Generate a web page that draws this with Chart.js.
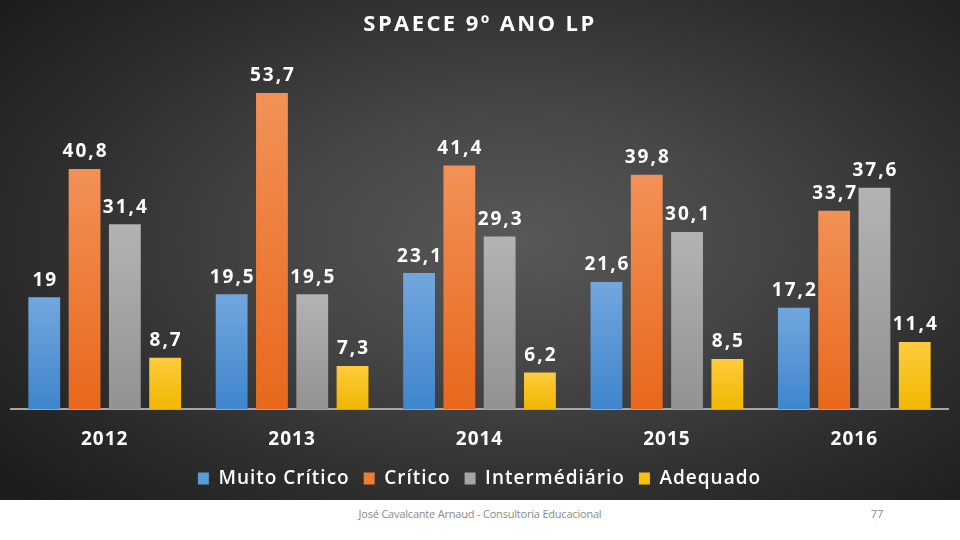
<!DOCTYPE html>
<html>
<head>
<meta charset="utf-8">
<script src="https://cdn.jsdelivr.net/npm/chart.js@4.4.1/dist/chart.umd.min.js"></script>
<style>
  html, body { margin: 0; padding: 0; background: #ffffff; }
  #wrap { position: relative; width: 960px; height: 540px; overflow: hidden; background: #ffffff; }
  #bg { position: absolute; left: 0; top: 0; width: 960px; height: 500px;
        background: radial-gradient(ellipse 70% 75% at 54% 48%, #585858 0%, #464646 35%, #2e2e2e 70%, #1c1c1c 100%); }
  #cv { position: absolute; left: 0; top: 0; }
  .foot { position: absolute; top: 506px; font-family: "Open Sans", sans-serif; font-size: 11px; color: #8a8a8a; }
</style>
</head>
<body>
<div id="wrap">
  <div id="bg"></div>
  <canvas id="cv" width="960" height="500"></canvas>
  <div class="foot" style="left:350px; width:260px; text-align:center; letter-spacing:-0.2px;">José Cavalcante Arnaud - Consultoria Educacional</div>
  <div class="foot" style="left:865px; width:24px; text-align:center;">77</div>
</div>
<script>
const titleText = "SPAECE 9º ANO LP";
const categories = ["2012", "2013", "2014", "2015", "2016"];
const seriesNames = ["Muito Crítico", "Crítico", "Intermédiário", "Adequado"];
const muitoCritico = [19, 19.5, 23.1, 21.6, 17.2];
const critico = [40.8, 53.7, 41.4, 39.8, 33.7];
const intermediario = [31.4, 19.5, 29.3, 30.1, 37.6];
const adequado = [8.7, 7.3, 6.2, 8.5, 11.4];

const colorsTop = ["#72a7de", "#f29157", "#b3b3b3", "#ffcb3d"];
const colorsBottom = ["#3f85cc", "#e8681b", "#929292", "#f0b800"];
const legendColors = ["#5b9bd5", "#ed7d31", "#a5a5a5", "#ffc000"];

function barGradient(i) {
  return function(context) {
    const chart = context.chart;
    const area = chart.chartArea;
    if (!area || context.parsed == null || context.parsed.y == null) return legendColors[i];
    const ys = chart.scales.y;
    const top = ys.getPixelForValue(context.parsed.y);
    const bottom = ys.getPixelForValue(0);
    if (!isFinite(top) || !isFinite(bottom) || top === bottom) return legendColors[i];
    const g = chart.ctx.createLinearGradient(0, top, 0, bottom);
    g.addColorStop(0, colorsTop[i]);
    g.addColorStop(1, colorsBottom[i]);
    return g;
  };
}

const seriesValues = [muitoCritico, critico, intermediario, adequado];
const datasets = seriesValues.map((vals, i) => ({
  label: seriesNames[i],
  data: vals,
  backgroundColor: barGradient(i),
  borderWidth: 0,
  categoryPercentage: 0.86,
  barPercentage: 0.79
}));

function fmt(v) { return String(v).replace('.', ','); }

const spacingPlugin = {
  id: 'spacing',
  beforeLayout(chart) { chart.ctx.letterSpacing = '1px'; },
  beforeDraw(chart) { chart.ctx.letterSpacing = '1px'; }
};

const labelsPlugin = {
  id: 'labelsAndTitle',
  afterDatasetsDraw(chart) {
    const ctx = chart.ctx;
    ctx.save();
    ctx.fillStyle = '#ffffff';
    ctx.textAlign = 'center';
    ctx.textBaseline = 'middle';
    ctx.font = 'bold 19px "Open Sans"';
    ctx.letterSpacing = '2px';
    chart.data.datasets.forEach((ds, di) => {
      const meta = chart.getDatasetMeta(di);
      meta.data.forEach((bar, j) => {
        ctx.fillText(fmt(ds.data[j]), bar.x + 1, bar.y - 17);
      });
    });
    ctx.font = 'bold 22px "Open Sans"';
    ctx.letterSpacing = '2.4px';
    ctx.fillText(titleText, 480, 25);
    ctx.restore();
  }
};

new Chart(document.getElementById('cv'), {
  type: 'bar',
  data: { labels: categories, datasets: datasets },
  plugins: [spacingPlugin, labelsPlugin],
  options: {
    responsive: false,
    animation: false,
    layout: { padding: { top: 56, left: 11, right: 12, bottom: 2 } },
    scales: {
      x: {
        grid: { display: false },
        border: { display: true, color: '#a6a6a6', width: 2 },
        ticks: { color: '#ffffff', font: { family: '"Open Sans"', size: 19, weight: 'bold' }, padding: 11 },
        afterFit(scale) { scale.height = 46; }
      },
      y: { display: false, min: 0, max: 60 }
    },
    plugins: {
      title: { display: false },
      tooltip: { enabled: false },
      legend: {
        position: 'bottom',
        labels: {
          color: '#ffffff',
          font: { family: '"Open Sans"', size: 19, weight: '600' },
          boxWidth: 11, boxHeight: 12, padding: 14,
          generateLabels(chart) {
            return chart.data.datasets.map((ds, i) => ({
              text: ds.label, fillStyle: legendColors[i], strokeStyle: legendColors[i], lineWidth: 0,
              fontColor: '#ffffff', hidden: false, datasetIndex: i
            }));
          }
        }
      }
    }
  }
});
</script>
</body>
</html>
